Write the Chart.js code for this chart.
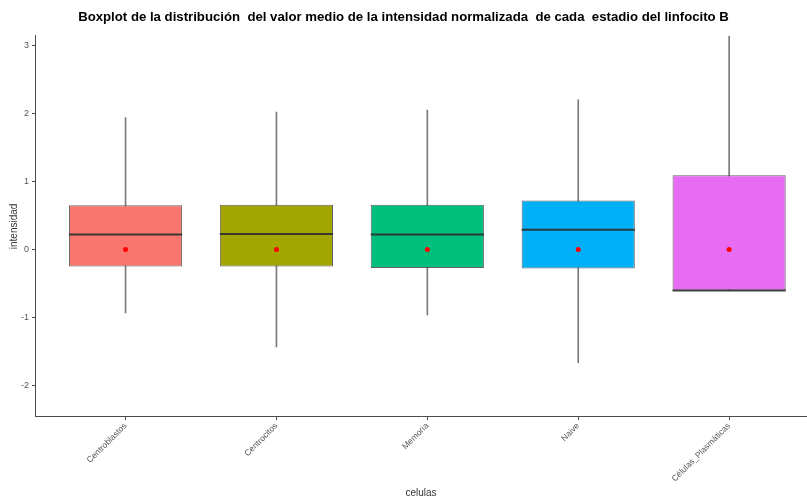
<!DOCTYPE html>
<html>
<head>
<meta charset="utf-8">
<script src="https://cdn.jsdelivr.net/npm/chart.js@4.4.1/dist/chart.umd.min.js"></script>
<style>
  html, body { margin: 0; padding: 0; background: #fff; }
  #wrap { width: 807px; height: 497px; }
</style>
</head>
<body>
<div id="wrap"><canvas id="myChart" width="807" height="497"></canvas></div>
<script>
    // values
    const categories = ['Centroblastos', 'Centrocitos', 'Memoria', 'Naive', 'Células_Plasmáticas']
    const whiskerLow = [-0.93, -1.43, -0.96, -1.66, -0.60]
    const q1 = [-0.25, -0.25, -0.27, -0.28, -0.60]
    const medians = [0.22, 0.23, 0.22, 0.29, -0.60]
    const q3 = [0.65, 0.66, 0.66, 0.72, 1.09]
    const whiskerHigh = [1.94, 2.02, 2.05, 2.20, 3.14]
    const means = [0, 0, 0, 0, 0]
    const yTicks = [-2, -1, 0, 1, 2, 3]

    const boxColors = ['#F8766D', '#A3A500', '#00BF7D', '#00B0F6', '#E76BF3']
    const axisColor = '#4a4a4a'

    const ctx = document.getElementById('myChart').getContext('2d')

    const xy = (arr) => arr.map((v, i) => ({x: i + 1, y: v}))
    const range = (lo, hi) => lo.map((v, i) => ({x: i + 1, y: [v, hi[i]]}))

    const chart = new Chart(ctx, {
        type: 'bar',
        data: {
            datasets: [
                {
                    label: 'whiskers',
                    data: range(whiskerLow, whiskerHigh),
                    backgroundColor: '#7a7a7a',
                    barThickness: 1,
                    grouped: false,
                    order: 4
                },
                {
                    label: 'box',
                    data: range(q1, q3),
                    backgroundColor: boxColors,
                    borderColor: 'rgba(60,60,60,0.8)',
                    borderWidth: 1,
                    borderSkipped: false,
                    categoryPercentage: 0.75,
                    barPercentage: 1,
                    grouped: false,
                    order: 3
                },
                {
                    type: 'scatter',
                    label: 'median',
                    data: xy(medians),
                    pointStyle: 'line',
                    pointRadius: 56.6,
                    borderColor: 'rgba(45,45,45,0.9)',
                    borderWidth: 2,
                    order: 2
                },
                {
                    type: 'scatter',
                    label: 'mean',
                    data: xy(means),
                    pointRadius: 2.5,
                    backgroundColor: '#ff0000',
                    borderWidth: 0,
                    order: 1
                }
            ]
        },
        options: {
            responsive: false,
            animation: false,
            events: [],
            layout: {padding: 0, autoPadding: false},
            plugins: {
                legend: {display: false},
                tooltip: {enabled: false},
                title: {
                    display: true,
                    text: 'Boxplot de la distribución  del valor medio de la intensidad normalizada  de cada  estadio del linfocito B',
                    color: '#000',
                    font: {family: "'Liberation Sans', Arial, sans-serif", size: 13.2, weight: 'bold'},
                    padding: {top: 9, bottom: 11}
                }
            },
            scales: {
                x: {
                    type: 'linear',
                    min: 0.4,
                    max: 5.516,
                    offset: false,
                    afterBuildTicks: (s) => { s.ticks = categories.map((c, i) => ({value: i + 1})) },
                    afterFit: (s) => { s.height = 80 },
                    ticks: {
                        autoSkip: false,
                        minRotation: 45,
                        maxRotation: 45,
                        padding: 1,
                        color: '#555',
                        font: {family: "'Liberation Sans', Arial, sans-serif", size: 8.5},
                        callback: (v, i) => categories[i]
                    },
                    grid: {offset: false, drawOnChartArea: false, drawTicks: true, tickLength: 3, color: axisColor},
                    border: {display: true, color: axisColor, width: 1},
                    title: {
                        display: true,
                        text: 'celulas',
                        color: '#333',
                        font: {family: "'Liberation Sans', Arial, sans-serif", size: 10},
                        padding: {top: 0, bottom: -2}
                    }
                },
                y: {
                    min: -2.46,
                    max: 3.14,
                    afterBuildTicks: (s) => { s.ticks = yTicks.map(v => ({value: v})) },
                    afterFit: (s) => { s.width = 35 },
                    ticks: {
                        padding: 3,
                        color: '#555',
                        font: {family: "'Liberation Sans', Arial, sans-serif", size: 9}
                    },
                    grid: {drawOnChartArea: false, drawTicks: true, tickLength: 3, color: axisColor},
                    border: {display: true, color: axisColor, width: 1},
                    title: {
                        display: true,
                        text: 'intensidad',
                        color: '#333',
                        font: {family: "'Liberation Sans', Arial, sans-serif", size: 10},
                        padding: {top: 8, bottom: 0}
                    }
                }
            }
        }
    })
</script>
</body>
</html>
